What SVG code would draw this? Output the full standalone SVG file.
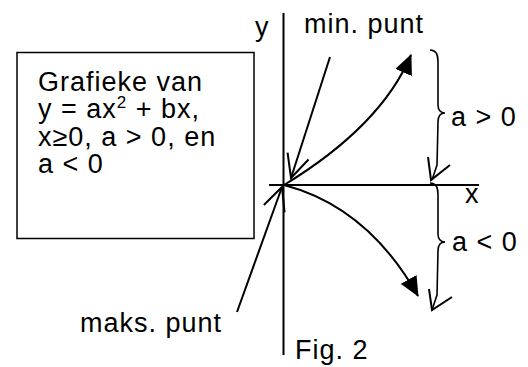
<svg xmlns="http://www.w3.org/2000/svg" width="528" height="367" viewBox="0 0 528 367">
<style>
text{font-family:"Liberation Sans",Arial,sans-serif;font-size:27px;letter-spacing:1px;fill:#000}
.ln{fill:none;stroke:#000;stroke-width:2}
.thin{fill:none;stroke:#000;stroke-width:1.6}
</style>
<defs>
<marker id="solid" markerUnits="userSpaceOnUse" viewBox="0 0 20 18" refX="19" refY="9" markerWidth="20" markerHeight="18" orient="auto">
<path d="M0,0 L20,9 L0,18 Z" fill="#000"/>
</marker>
<marker id="open" markerUnits="userSpaceOnUse" viewBox="-2 -2 28 26" refX="23" refY="11" markerWidth="28" markerHeight="26" orient="auto" overflow="visible">
<path d="M0,0 L23,11 L0,22" fill="none" stroke="#000" stroke-width="2"/>
</marker>
</defs>
<rect width="528" height="367" fill="#fff"/>
<g id="info-box">
<rect x="17" y="52.5" width="237" height="186" fill="#fff" stroke="#000" stroke-width="1.5"/>
<text x="38" y="91">Grafieke van</text>
<text x="38" y="118">y = ax<tspan font-size="17" dy="-10">2</tspan><tspan dy="10"> + bx,</tspan></text>
<text x="38" y="146">x≥0, a &gt; 0, en</text>
<text x="38" y="173">a &lt; 0</text>
</g>
<g id="axes">
<line class="ln" x1="283.5" y1="13" x2="283.5" y2="355"/>
<line class="ln" x1="269" y1="185" x2="479" y2="185"/>
<text id="y-label" x="255" y="36">y</text>
<text id="x-label" x="465" y="203">x</text>
</g>
<g id="labels">
<text id="min-punt" x="304" y="33">min. punt</text>
<text id="maks-punt" x="80" y="332">maks. punt</text>
<text id="a-pos" x="451" y="126">a &gt; 0</text>
<text id="a-neg" x="452" y="251">a &lt; 0</text>
<text id="fig" x="295" y="359">Fig. 2</text>
</g>
<g id="connectors">
<path id="curve-pos" class="ln" d="M284,185 Q381,126 411,55" marker-end="url(#solid)"/>
<path id="curve-neg" class="ln" d="M284,185 Q368,207 418,296" marker-end="url(#solid)"/>
<path id="ptr-min" class="ln" d="M330,57 L291,178" marker-end="url(#open)"/>
<path id="ptr-maks" class="ln" d="M237,312 L282,187" marker-end="url(#open)"/>
<path id="brace-pos" class="thin" d="M430,50 C436,50 438,54 438,61 L438,105 C438,110 441,113 445,113 C441,113 438,116 438,122 L437,165 L432,180"/>
<path class="ln" d="M428,157 L431,180 L450,165"/>
<path id="brace-neg" class="thin" d="M430,183 C436,183 438,187 438,194 L438,234 C438,239 441,242 445,242 C441,242 438,245 438,251 L437,295 L432,310"/>
<path class="ln" d="M429,289 L432,310 L452,297"/>
</g>
</svg>
